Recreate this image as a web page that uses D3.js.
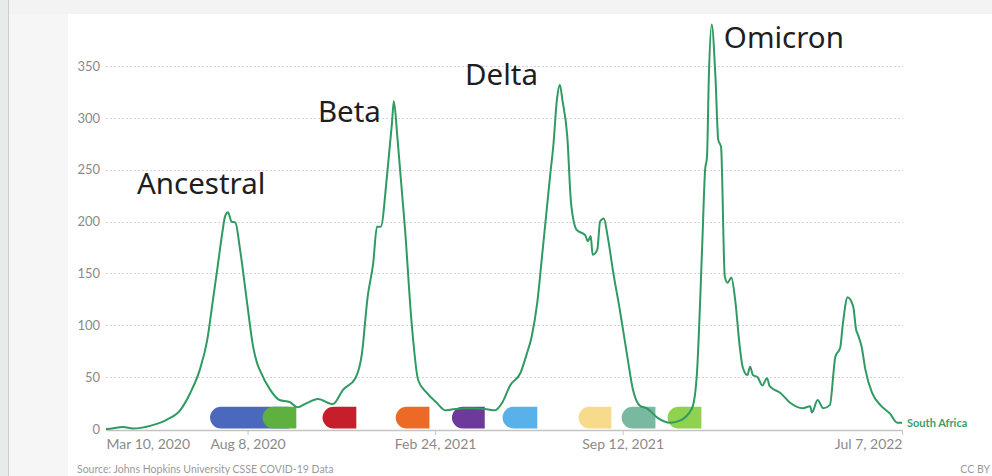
<!DOCTYPE html>
<html><head><meta charset="utf-8">
<script src="https://cdn.jsdelivr.net/npm/d3@7"></script>
<style>
html,body{margin:0;padding:0;background:#f3f3f3;overflow:hidden}
svg{display:block}
</style></head>
<body>
<svg id="chart" width="992" height="476"></svg>
<script>
// ---- data ----
const startDate = "2020-03-10";
// days since Mar 10, 2020
const dayOffsets = [0,1,18,29,47,65,79,90,100,108,114,119,124,127,130,134,138,143,150,157,161,164,175,185,196,204,214,226,242,253,266,273,279,285,289,293,300,305,307,311,319,326,333,342,353,362,370,388,406,415,423,431,442,449,454,460,465,470,474,477,481,484,487,492,496,502,511,514,517,519,524,527,531,535,541,548,556,562,570,577,588,602,612,625,630,636,639,641,643,646,650,653,656,660,663,667,671,676,679,684,687,690,695,700,705,708,719,730,743,751,753,759,765,772,778,783,786,791,797,800,802,806,810,817,826,836,844,849];
// daily new cases per million, 7-day average, South Africa
const casesPerMillion = [0,0,2,0.5,3,9,18,35,57,86,124,156,189,205,209,200,199,173,125,79,64,57,38,28,26,21,25,29,24,38,49,73,127,160,195,195,247,295,316,279,192,102,47,35,25,18,19,20,19,18,26,42,54,73,89,122,166,211,247,272,318,332,316,282,218,192,187,181,186,168,173,200,203,186,151,115,70,38,22,20,11,6,8,20,50,179,250,262,340,390,340,279,272,147,141,146,125,79,60,52,60,52,50,42,49,41,35,25,20,22,16,28,20,23,70,78,102,127,118,96,91,79,57,35,23,15,6,6];
const yTicks = [0,50,100,150,200,250,300,350];
const xTickDates = ["2020-03-10","2020-08-08","2021-02-24","2021-09-12","2022-07-07"];
const xTickLabels = ["Mar 10, 2020","Aug 8, 2020","Feb 24, 2021","Sep 12, 2021","Jul 7, 2022"];
const waveLabels = ["Ancestral","Beta","Delta","Omicron"];
const waveLabelDates = ["2020-04-12","2020-10-22","2021-03-28","2021-12-29"];
const waveLabelValues = [227,296,332,367];
// variant bars: start / end (days since Mar 10, 2020)
const variantStart = [111,167,231,309,369,423,504,550,599];
const variantEnd   = [195,203,267,345,404,460,539,586,635];
const variantColors = ["#4a69bd","#5fb13f","#c61f2b","#ec6a26","#6d3a9c","#58b1e8","#f8da8c","#78b9a0","#8ed24f"];
const seriesName = "South Africa";

// ---- build ----
const parse = d3.timeParse("%Y-%m-%d");
const t0 = parse(startDate);
const data = dayOffsets.map((d,i)=>({date:d3.timeDay.offset(t0,d), v:casesPerMillion[i]}));

const svg = d3.select("#chart");
// backgrounds
svg.append("rect").attr("x",0).attr("y",0).attr("width",992).attr("height",476).attr("fill","#f3f3f3");
svg.append("rect").attr("x",0).attr("y",0).attr("width",8).attr("height",476).attr("fill","#e8ebec");
svg.append("line").attr("x1",8.5).attr("x2",8.5).attr("y1",0).attr("y2",476).attr("stroke","#c9cdd0");
svg.append("rect").attr("x",9).attr("y",14).attr("width",59).attr("height",462).attr("fill","#f6f6f6");
svg.append("rect").attr("x",68).attr("y",14).attr("width",924).attr("height",462).attr("fill","#ffffff");

const x = d3.scaleTime().domain([t0, parse("2022-07-07")]).range([106,902]);
const y = d3.scaleLinear().domain([0,350]).range([429,66]);

// grid
const grid = svg.append("g");
grid.selectAll("line").data(yTicks.filter(d=>d>0)).join("line")
  .attr("x1",106).attr("x2",903)
  .attr("y1",d=>Math.round(y(d))+0.5).attr("y2",d=>Math.round(y(d))+0.5)
  .attr("stroke","#d4d4d4").attr("stroke-width",1).attr("stroke-dasharray","2,2");

// y axis labels
const yAxis = d3.axisLeft(y).tickValues(yTicks).tickSize(0).tickPadding(6);
const gy = svg.append("g").attr("transform","translate(106,0)").call(yAxis);
gy.select(".domain").remove();
gy.selectAll("text").attr("fill","#8a8a8a").attr("font-family","Lato, sans-serif").attr("font-size",13);

// x axis
const xAxis = d3.axisBottom(x).tickValues(xTickDates.map(parse))
  .tickFormat((d,i)=>xTickLabels[i]).tickSize(5).tickPadding(4).tickSizeOuter(0);
const gx = svg.append("g").attr("transform","translate(0,430)").call(xAxis);
gx.select(".domain").attr("stroke","#c4c4c4").attr("stroke-width",1.5);
gx.selectAll(".tick line").attr("stroke","#c4c4c4");
gx.selectAll(".tick").filter((d,i)=>i===0).select("line").remove();
gx.selectAll("text").attr("fill","#8a8a8a").attr("font-family","Lato, sans-serif").attr("font-size",14)
  .attr("text-anchor",(d,i)=>i===0?"start":(i===xTickDates.length-1?"end":"middle"));

// variant bars (rounded left end, square right end)
const barTop = y(21.5), barBot = y(0.5), bh = barBot-barTop, r = bh/2;
svg.append("g").selectAll("path").data(variantStart.map((s,i)=>({s,e:variantEnd[i],c:variantColors[i]})))
  .join("path")
  .attr("fill",d=>d.c)
  .attr("d",d=>{
    const x0 = x(d3.timeDay.offset(t0,d.s)), x1 = x(d3.timeDay.offset(t0,d.e));
    return `M${x0+r},${barTop} L${x1},${barTop} L${x1},${barBot} L${x0+r},${barBot} A${r},${r} 0 0 1 ${x0+r},${barTop} Z`;
  });

// line
const line = d3.line().x(d=>x(d.date)).y(d=>y(d.v)).curve(d3.curveMonotoneX);
svg.append("path").datum(data).attr("d",line).attr("fill","none")
  .attr("stroke","#2f9a62").attr("stroke-width",2).attr("stroke-linejoin","round");

// series label
const last = data[data.length-1];
svg.append("text").attr("x",x(last.date)+5).attr("y",y(last.v)+4).text(seriesName)
  .attr("fill","#3aa06a").attr("font-family","Lato, sans-serif").attr("font-size",11).attr("font-weight",700);

// wave labels
svg.append("g").selectAll("text").data(waveLabels).join("text")
  .attr("x",(d,i)=>x(parse(waveLabelDates[i])))
  .attr("y",(d,i)=>y(waveLabelValues[i]))
  .text(d=>d)
  .attr("fill","#1e1e1e").attr("font-family","'Noto Sans', 'Open Sans', sans-serif").attr("font-size",29.5);

// footer
svg.append("text").attr("x",77).attr("y",473).text("Source: Johns Hopkins University CSSE COVID-19 Data")
  .attr("fill","#9a9a9a").attr("font-family","Lato, sans-serif").attr("font-size",10.5);
svg.append("text").attr("x",990).attr("y",473).attr("text-anchor","end").text("CC BY")
  .attr("fill","#9a9a9a").attr("font-family","Lato, sans-serif").attr("font-size",10.5);
</script>
</body></html>
